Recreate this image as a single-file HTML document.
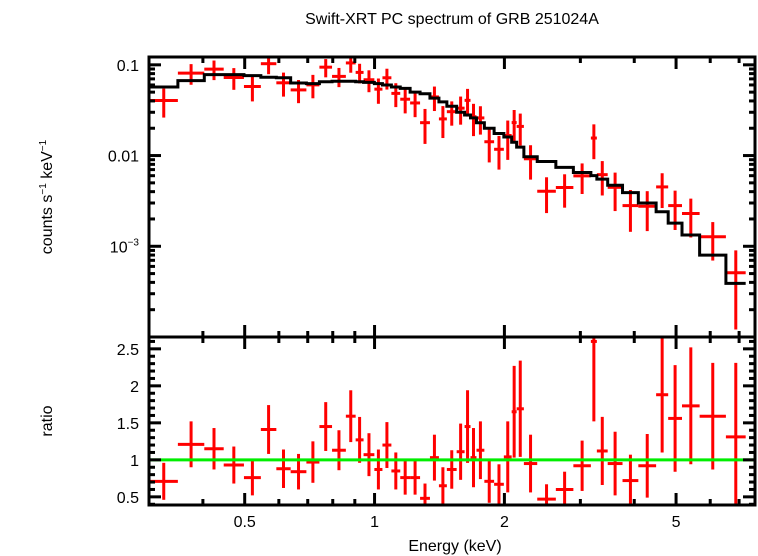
<!DOCTYPE html>
<html><head><meta charset="utf-8"><style>
body{margin:0;background:#fff;}
svg{display:block;font-family:"Liberation Sans",sans-serif;}
</style></head><body>
<svg id="chart" width="758" height="556" viewBox="0 0 758 556">
<defs>
<clipPath id="clipTop"><rect x="149" y="57" width="606" height="280"/></clipPath>
<clipPath id="clipBot"><rect x="149" y="337" width="606" height="168"/></clipPath>
</defs>
<text x="452" y="24" font-size="16" text-anchor="middle">Swift-XRT PC spectrum of GRB 251024A</text>
<text transform="translate(52,197) rotate(-90)" font-size="16" text-anchor="middle">counts s<tspan font-size="10" dy="-6">−1</tspan><tspan dy="6"> keV</tspan><tspan font-size="10" dy="-6">−1</tspan></text>
<text transform="translate(52,421) rotate(-90)" font-size="16" text-anchor="middle">ratio</text>
<text x="455" y="551" font-size="16" text-anchor="middle">Energy (keV)</text>
<g id="gTop"></g>
<g id="gBot"></g>
<g id="gAxes"></g>
</svg>
<script>
const binEdges=[0.301,0.35,0.403,0.447,0.498,0.545,0.592,0.639,0.695,0.745,0.797,0.858,0.904,0.943,0.999,1.043,1.094,1.147,1.209,1.275,1.344,1.41,1.471,1.55,1.617,1.669,1.723,1.797,1.893,1.994,2.079,2.135,2.219,2.383,2.632,2.89,3.173,3.276,3.471,3.757,4.088,4.495,4.794,5.161,5.670,6.524,7.25];
const modelValues=[0.057,0.067,0.078,0.078,0.076,0.073,0.072,0.063,0.062,0.065,0.066,0.066,0.065,0.064,0.062,0.060,0.057,0.055,0.050,0.048,0.043,0.039,0.035,0.030,0.028,0.026,0.023,0.020,0.0175,0.016,0.014,0.0124,0.0097,0.0086,0.0074,0.0065,0.0060,0.0055,0.0047,0.0039,0.0030,0.0024,0.0018,0.00133,0.00080,0.00039];
const ratioValues=[0.71,1.21,1.15,0.93,0.76,1.41,0.88,0.84,0.97,1.45,1.13,1.59,1.27,1.07,0.87,1.20,0.85,0.76,0.76,0.48,1.03,0.65,0.87,1.11,1.45,1.03,1.13,0.71,0.67,1.04,1.65,1.69,0.95,0.47,0.60,0.92,2.60,1.12,0.95,0.72,0.92,1.88,1.56,1.73,1.59,1.31];
const ratioErrors=[0.25,0.31,0.28,0.25,0.24,0.33,0.26,0.24,0.28,0.33,0.27,0.35,0.31,0.29,0.27,0.31,0.25,0.23,0.23,0.2,0.31,0.25,0.26,0.38,0.49,0.4,0.39,0.29,0.27,0.48,0.62,0.65,0.39,0.2,0.24,0.34,1.08,0.46,0.43,0.35,0.43,0.78,0.72,0.79,0.72,1.0];
const xTickLabels=["0.5","1","2","5"];
const xTickValues=[0.5,1,2,5];
const ratioTickValues=[0.5,1,1.5,2,2.5];
const ratioTickLabels=["0.5","1","1.5","2","2.5"];

(function(){
const NS="http://www.w3.org/2000/svg";
const X0=149,X1=755,T0=57,T1=337,B0=337,B1=505;
const xLogMin=Math.log10(0.3),xLogMax=Math.log10(7.62);
function xs(e){return X0+(Math.log10(e)-xLogMin)/(xLogMax-xLogMin)*(X1-X0);}
const yLogMin=-4,yLogMax=Math.log10(0.122);
function yt(v){return T1-(Math.log10(v)-yLogMin)/(yLogMax-yLogMin)*(T1-T0);}
const rMin=0.39,rMax=2.66;
function yr(v){return B1-(v-rMin)/(rMax-rMin)*(B1-B0);}
function mk(tag,attrs,parent){const e=document.createElementNS(NS,tag);for(const k in attrs)e.setAttribute(k,attrs[k]);parent.appendChild(e);return e;}
const gTop=document.getElementById('gTop'),gBot=document.getElementById('gBot'),gAx=document.getElementById('gAxes');
const topG=mk('g',{'clip-path':'url(#clipTop)'},gTop);
const botG=mk('g',{'clip-path':'url(#clipBot)'},gBot);
const red='#ff0000';
for(let i=0;i<ratioValues.length;i++){
  const lo=binEdges[i],hi=binEdges[i+1],c=Math.sqrt(lo*hi);
  const cnt=ratioValues[i]*modelValues[i],ce=ratioErrors[i]*modelValues[i];
  const g1=mk('g',{},topG);
  
  
  mk('line',{x1:xs(lo),x2:xs(hi),y1:yt(cnt),y2:yt(cnt),stroke:red,'stroke-width':3},g1);
  mk('line',{x1:xs(c),x2:xs(c),y1:yt(cnt+ce),y2:yt(Math.max(cnt-ce,1e-6)),stroke:red,'stroke-width':3},g1);
  const g2=mk('g',{},botG);
  
  
  mk('line',{x1:xs(lo),x2:xs(hi),y1:yr(ratioValues[i]),y2:yr(ratioValues[i]),stroke:red,'stroke-width':3},g2);
  mk('line',{x1:xs(c),x2:xs(c),y1:yr(ratioValues[i]+ratioErrors[i]),y2:yr(ratioValues[i]-ratioErrors[i]),stroke:red,'stroke-width':3},g2);
}
let d='';
for(let i=0;i<modelValues.length;i++){
  const y=yt(modelValues[i]);
  d+=(i===0?'M':'L')+xs(binEdges[i])+','+y+' L'+xs(binEdges[i+1])+','+y+' ';
}
const model=mk('path',{d:d,fill:'none',stroke:'#000','stroke-width':3},topG);


const unity=mk('line',{x1:X0,x2:X1,y1:yr(1),y2:yr(1),stroke:'#00ee00','stroke-width':3},botG);


mk('rect',{x:X0,y:T0,width:X1-X0,height:T1-T0,fill:'none',stroke:'#000','stroke-width':3},gAx);
mk('rect',{x:X0,y:B0,width:X1-X0,height:B1-B0,fill:'none',stroke:'#000','stroke-width':3},gAx);
const minorX=[0.4,0.6,0.7,0.8,0.9,3,4,6,7];
function xtick(e,len){const x=xs(e);
  [[T0,1],[T1,-1],[B0,1],[B1,-1]].forEach(([y,s])=>mk('line',{x1:x,x2:x,y1:y,y2:y+s*len,stroke:'#000','stroke-width':3},gAx));}
minorX.forEach(e=>xtick(e,6));
xTickValues.forEach(e=>xtick(e,12));
xTickValues.forEach((e,i)=>{const t=mk('text',{x:xs(e),y:527,'font-size':16,'text-anchor':'middle'},gAx);t.textContent=xTickLabels[i];
  
  });
for(let p=-4;p<=-1;p++){for(let m=1;m<=9;m++){const v=m*Math.pow(10,p);if(v>0.122)continue;const y=yt(v);const len=m===1?12:6;
  mk('line',{x1:X0,x2:X0+len,y1:y,y2:y,stroke:'#000','stroke-width':3},gAx);
  mk('line',{x1:X1,x2:X1-len,y1:y,y2:y,stroke:'#000','stroke-width':3},gAx);}}
[[0.1,'0.1'],[0.01,'0.01']].forEach(([v,l])=>{const t=mk('text',{x:139,y:yt(v)+6,'font-size':16,'text-anchor':'end'},gAx);t.textContent=l;
  
  });
const t3=mk('text',{x:139,y:yt(0.001)+6,'font-size':16,'text-anchor':'end'},gAx);


t3.innerHTML='10<tspan font-size="10" dy="-7">−3</tspan>';
for(let k=4;k<=26;k++){const vv=k/10;const major=(k%5===0);const len=major?12:6;const y=yr(vv);
  mk('line',{x1:X0,x2:X0+len,y1:y,y2:y,stroke:'#000','stroke-width':3},gAx);
  mk('line',{x1:X1,x2:X1-len,y1:y,y2:y,stroke:'#000','stroke-width':3},gAx);}
ratioTickValues.forEach((v,i)=>{const t=mk('text',{x:139,y:yr(v)+6,'font-size':16,'text-anchor':'end'},gAx);t.textContent=ratioTickLabels[i];
  
  });
})();
</script>
</body></html>
